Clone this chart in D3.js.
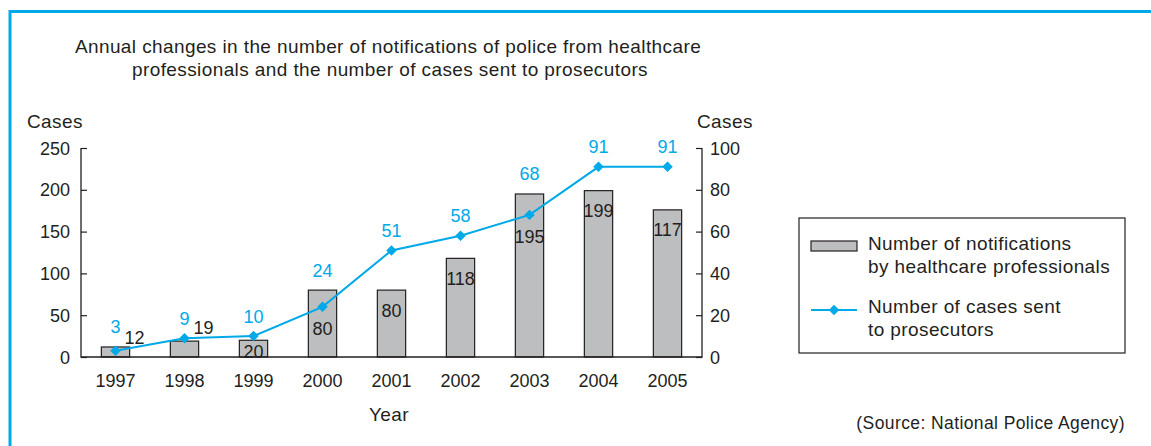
<!DOCTYPE html>
<html>
<head>
<meta charset="utf-8">
<script src="https://cdn.jsdelivr.net/npm/d3@7"></script>
<style>
  body { margin: 0; background: #fff; }
  svg text { font-family: "Liberation Sans", Arial, sans-serif; fill: #231f20; }
  svg text.words { font-size: 19px; letter-spacing: 0.4px; }
</style>
</head>
<body>
<svg id="chart" width="1151" height="446"></svg>
<script>
// chart data
var years = ["1997", "1998", "1999", "2000", "2001", "2002", "2003", "2004", "2005"];
var notifications = [12, 19, 20, 80, 80, 118, 195, 199, 176];
var notificationLabels = ["12", "19", "20", "80", "80", "118", "195", "199", "117"];
var prosecuted = [3, 9, 10, 24, 51, 58, 68, 91, 91];
var leftTicks = [0, 50, 100, 150, 200, 250];
var rightTicks = [0, 20, 40, 60, 80, 100];

var blue = "#00a9e8",
    ink = "#231f20",
    fontSize = 18;

var svg = d3.select("#chart");

// frame in the corner
svg.append("path")
    .attr("d", "M10,446 V11.5 H1151")
    .attr("fill", "none")
    .attr("stroke", blue)
    .attr("stroke-width", 3);

var plot = { left: 81, right: 702, top: 148, bottom: 357 };

var x = d3.scaleBand()
    .domain(years)
    .range([plot.left, plot.right])
    .paddingInner(0.59)
    .paddingOuter(0.295);

var yLeft = d3.scaleLinear().domain([0, 250]).range([plot.bottom, plot.top]);
var yRight = d3.scaleLinear().domain([0, 100]).range([plot.bottom, plot.top]);

// title
var title = svg.append("text")
    .attr("class", "words")
    .attr("text-anchor", "middle");
title.append("tspan").attr("x", 388).attr("y", 53)
    .text("Annual changes in the number of notifications of police from healthcare");
title.append("tspan").attr("x", 390).attr("y", 76)
    .text("professionals and the number of cases sent to prosecutors");

// axis unit labels
svg.append("text").attr("class", "words").attr("x", 27).attr("y", 128).text("Cases");
svg.append("text").attr("class", "words").attr("x", 697).attr("y", 128).text("Cases");

// bars
svg.append("g").selectAll("rect")
    .data(notifications)
    .join("rect")
    .attr("x", function (d, i) { return x(years[i]); })
    .attr("y", function (d) { return yLeft(d); })
    .attr("width", x.bandwidth())
    .attr("height", function (d) { return plot.bottom - yLeft(d); })
    .attr("fill", "#bcbec0")
    .attr("stroke", ink)
    .attr("stroke-width", 1.2);

// axes
var axisLeft = d3.axisRight(yLeft).tickValues(leftTicks).tickSize(6).tickFormat("");
var axisRight = d3.axisLeft(yRight).tickValues(rightTicks).tickSize(6).tickFormat("");

function styleAxis(g) {
    g.select(".domain").remove();
    g.selectAll(".tick line").attr("stroke", ink).attr("stroke-width", 1.2);
}

svg.append("g").attr("transform", "translate(" + plot.left + ",0)").call(axisLeft).call(styleAxis);
svg.append("g").attr("transform", "translate(" + plot.right + ",0)").call(axisRight).call(styleAxis);

svg.append("path")
    .attr("d", "M" + plot.left + "," + plot.top + " V" + plot.bottom + " H" + plot.right + " V" + plot.top)
    .attr("fill", "none")
    .attr("stroke", ink)
    .attr("stroke-width", 1.3);

svg.append("g").selectAll("text")
    .data(leftTicks)
    .join("text")
    .attr("x", 70)
    .attr("y", function (d) { return yLeft(d) + 6.5; })
    .attr("text-anchor", "end")
    .attr("font-size", fontSize)
    .text(function (d) { return d; });

svg.append("g").selectAll("text")
    .data(rightTicks)
    .join("text")
    .attr("x", 710)
    .attr("y", function (d) { return yRight(d) + 6.5; })
    .attr("font-size", fontSize)
    .text(function (d) { return d; });

svg.append("g").selectAll("text")
    .data(years)
    .join("text")
    .attr("x", function (d) { return x(d) + x.bandwidth() / 2; })
    .attr("y", 387)
    .attr("text-anchor", "middle")
    .attr("font-size", fontSize)
    .text(function (d) { return d; });

svg.append("text")
    .attr("class", "words")
    .attr("x", 389).attr("y", 421)
    .attr("text-anchor", "middle")
    .text("Year");

// line series
var cx = function (d, i) { return x(years[i]) + x.bandwidth() / 2; };

svg.append("path")
    .datum(prosecuted)
    .attr("d", d3.line().x(cx).y(function (d) { return yRight(d); }))
    .attr("fill", "none")
    .attr("stroke", blue)
    .attr("stroke-width", 2);

var diamond = d3.symbol().type(d3.symbolDiamond2).size(70);

svg.append("g").selectAll("path")
    .data(prosecuted)
    .join("path")
    .attr("d", diamond)
    .attr("transform", function (d, i) { return "translate(" + cx(d, i) + "," + yRight(d) + ")"; })
    .attr("fill", blue);

// line value labels, above whichever is higher: point or bar
svg.append("g").selectAll("text")
    .data(prosecuted)
    .join("text")
    .attr("x", cx)
    .attr("y", function (d, i) {
        return Math.min(yRight(d), yLeft(notifications[i])) - 13.5;
    })
    .attr("text-anchor", "middle")
    .attr("font-size", fontSize)
    .style("fill", blue)
    .text(function (d) { return d; });

// bar value labels
svg.append("g").selectAll("text")
    .data(notifications)
    .join("text")
    .attr("x", function (d, i) {
        return i < 2 ? cx(d, i) + 19 : cx(d, i);
    })
    .attr("y", function (d, i) {
        var top = yLeft(d), pt = yRight(prosecuted[i]);
        if (i < 2) return top - 3 - (i * 4);
        var c = pt > top ? pt + 22 : top + 20;
        return Math.min(c, plot.bottom - 6) + 6.5;
    })
    .attr("text-anchor", "middle")
    .attr("font-size", fontSize)
    .text(function (d, i) { return notificationLabels[i]; });

// legend
var lg = svg.append("g");
lg.append("rect")
    .attr("x", 799).attr("y", 218).attr("width", 326).attr("height", 135)
    .attr("fill", "#fff").attr("stroke", ink).attr("stroke-width", 1.2);
lg.append("rect")
    .attr("x", 811).attr("y", 241).attr("width", 46).attr("height", 10)
    .attr("fill", "#bcbec0").attr("stroke", ink).attr("stroke-width", 1.2);
lg.append("line")
    .attr("x1", 811).attr("x2", 857).attr("y1", 310).attr("y2", 310)
    .attr("stroke", blue).attr("stroke-width", 2);
lg.append("path").attr("d", diamond).attr("transform", "translate(834,310)").attr("fill", blue);

var t1 = lg.append("text").attr("class", "words");
t1.append("tspan").attr("x", 868).attr("y", 250).text("Number of notifications");
t1.append("tspan").attr("x", 868).attr("y", 273).text("by healthcare professionals");
var t2 = lg.append("text").attr("class", "words");
t2.append("tspan").attr("x", 868).attr("y", 313).text("Number of cases sent");
t2.append("tspan").attr("x", 868).attr("y", 336).text("to prosecutors");

svg.append("text")
    .attr("x", 1125).attr("y", 429)
    .attr("text-anchor", "end")
    .attr("font-size", 17.5)
    .attr("letter-spacing", 0.4)
    .text("(Source: National Police Agency)");
</script>
</body>
</html>
